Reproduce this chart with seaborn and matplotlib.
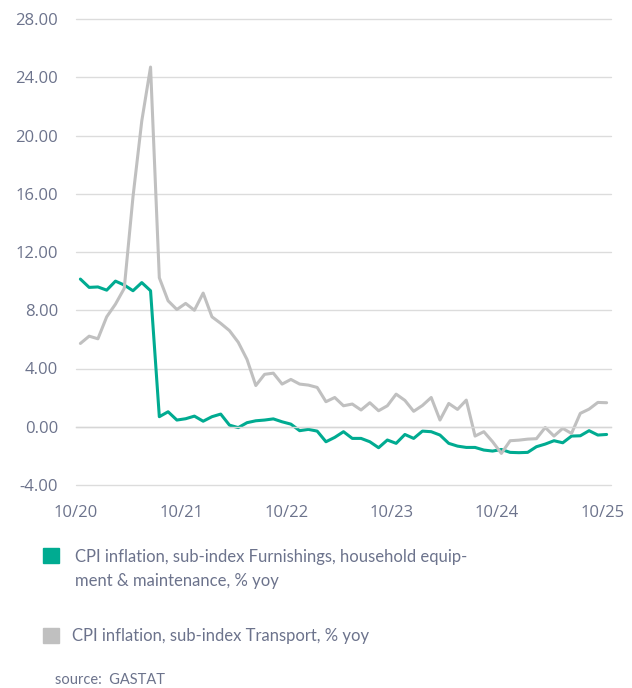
import matplotlib
matplotlib.use("Agg")
import matplotlib.pyplot as plt
from matplotlib.patches import Rectangle
import seaborn as sns
import pandas as pd
import numpy as np

# monthly data, 10/20 .. 10/25
furnishings = [10.14, 9.57, 9.60, 9.38, 10.00, 9.73, 9.34, 9.90, 9.34,
               0.69, 1.03, 0.46, 0.55, 0.73, 0.38, 0.69, 0.87, 0.11, -0.06, 0.28, 0.41, 0.46, 0.54,
               0.34, 0.18, -0.27, -0.18, -0.30, -1.03, -0.73, -0.34, -0.80, -0.80, -1.03, -1.44, -0.91, -1.14, -0.53, -0.80, -0.30,
               -0.34, -0.57, -1.14, -1.33, -1.42, -1.42, -1.60, -1.67, -1.56, -1.76, -1.78, -1.76, -1.37, -1.19, -0.96, -1.10, -0.64, -0.62, -0.27, -0.57, -0.53]
transport = [5.72, 6.22, 6.04, 7.55, 8.42, 9.50, 15.80, 21.00, 24.70,
             10.23, 8.65, 8.05, 8.47, 8.00, 9.18, 7.55, 7.10, 6.60, 5.80, 4.62, 2.83, 3.60, 3.68,
             2.93, 3.25, 2.93, 2.86, 2.70, 1.72, 2.01, 1.44, 1.56, 1.15, 1.65, 1.10, 1.44, 2.24, 1.81, 1.06, 1.46,
             2.01, 0.46, 1.60, 1.19, 1.83, -0.64, -0.34, -1.03, -1.83, -0.96, -0.92, -0.85, -0.82, -0.05, -0.64, -0.11, -0.46, 0.92, 1.21, 1.67, 1.65]
tick_labels = ["10/20", "10/21", "10/22", "10/23", "10/24", "10/25"]
y_ticks = [-4, 0, 4, 8, 12, 16, 20, 24, 28]

label_furn = "CPI inflation, sub-index Furnishings, household equip-\nment & maintenance, % yoy"
label_trans = "CPI inflation, sub-index Transport, % yoy"

TEAL = "#00ab91"
GREY = "#c0c0c0"
TEXT = "#6c738c"

sns.set_style("white")
plt.rcParams['font.family'] = ['Open Sans', 'DejaVu Sans']

df = pd.DataFrame({
    "month": np.arange(len(furnishings)) + 0.5,
    "furn": furnishings,
    "trans": transport,
})

fig = plt.figure(figsize=(6.32, 6.88), dpi=100)
ax = fig.add_axes([76 / 632, 1 - 485 / 688, 535 / 632, 466 / 688])

sns.lineplot(data=df, x="month", y="furn", color=TEAL, linewidth=2.2, ax=ax)
sns.lineplot(data=df, x="month", y="trans", color=GREY, linewidth=2.2, ax=ax)

ax.set_xlim(0, len(furnishings))
ax.set_ylim(-4, 28)
ax.set_yticks(y_ticks)
ax.set_yticklabels([f"{v:.2f}" for v in y_ticks])
ax.set_xticks(np.arange(len(tick_labels)) * 12)
ax.set_xticklabels(tick_labels)
ax.grid(axis="y", color="#dcdcdc", linewidth=1)
for gl in ax.yaxis.get_gridlines():
    gl.set_clip_on(False)
ax.set_axisbelow(True)
ax.set_xlabel("")
ax.set_ylabel("")

for s in ["top", "right", "left"]:
    ax.spines[s].set_visible(False)
ax.spines["bottom"].set_position(("data", 0))
ax.spines["bottom"].set_color("#d6d6d6")
ax.spines["bottom"].set_linewidth(1)
ax.tick_params(axis="x", direction="out", length=5, color="#d6d6d6", pad=51,
               labelsize=12, labelcolor=TEXT)
ax.tick_params(axis="y", length=0, pad=13, labelsize=12, labelcolor=TEXT)

# legend
leg_font = ['Lato', 'DejaVu Sans']
fig.patches.append(Rectangle((43 / 632, 1 - 563 / 688), 16 / 632, 15 / 688,
                             transform=fig.transFigure, color=TEAL))
fig.text(75 / 632, 1 - 569 / 688, label_furn, fontsize=12, color=TEXT,
         va="center", linespacing=1.55, family=leg_font)
fig.patches.append(Rectangle((43 / 632, 1 - 643 / 688), 16 / 632, 15 / 688,
                             transform=fig.transFigure, color=GREY))
fig.text(72 / 632, 1 - 636 / 688, label_trans, fontsize=12, color=TEXT, va="center",
         family=leg_font)
fig.text(55 / 632, 1 - 680 / 688, "source:  GASTAT", fontsize=10.5, color=TEXT, va="center",
         family=leg_font)

fig.savefig("out.png", dpi=100)
